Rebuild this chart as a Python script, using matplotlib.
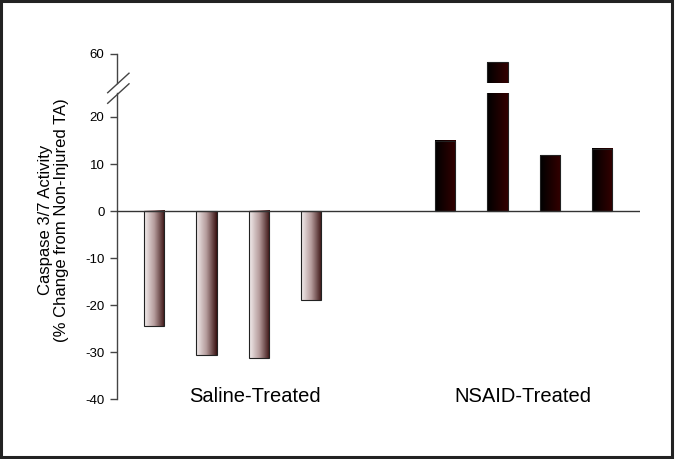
import numpy as np
import matplotlib.pyplot as plt
from matplotlib.patches import Rectangle
from matplotlib.colors import LinearSegmentedColormap

plt.rcParams['font.family'] = ['Liberation Sans', 'DejaVu Sans']
plt.rcParams['axes.unicode_minus'] = False

groups = ["Saline-Treated", "NSAID-Treated"]
saline_vals = [-24.5, -30.6, -31.3, -18.9]
nsaid_vals = [14.9, 58.2, 11.9, 13.2]
lower_ticks = [-40, -30, -20, -10, 0, 10, 20]
upper_ticks = [60]

saline_cmap = LinearSegmentedColormap.from_list("sal", ["#f4eeee", "#b49a9a", "#3a1212"])
nsaid_cmap = LinearSegmentedColormap.from_list("nsa", ["#000000", "#1a0000", "#330000"])

x_sal = np.arange(4)
x_nsa = np.arange(4) + 5.55
width = 0.39
grad = np.linspace(0, 1, 64).reshape(1, -1)

fig = plt.figure(figsize=(6.75, 4.59), dpi=100)
ax = fig.add_axes([0.1733, 0.1307, 0.7748, 0.6656])
ax_top = fig.add_axes([0.1733, 0.8192, 0.7748, 0.0632])

xlim = (-0.706, 9.27)


def draw_bars(a, xs, vals, cmap):
    for x, v in zip(xs, vals):
        a.imshow(grad, cmap=cmap, aspect='auto',
                 extent=(x - width / 2, x + width / 2, 0, v), zorder=2)
        a.add_patch(Rectangle((x - width / 2, 0), width, v, fill=False,
                              edgecolor="#222222", lw=0.8, zorder=3))


for a in (ax, ax_top):
    draw_bars(a, x_sal, saline_vals, saline_cmap)
    draw_bars(a, x_nsa, nsaid_vals, nsaid_cmap)
    a.set_xlim(*xlim)
    for s in ("top", "right", "bottom"):
        a.spines[s].set_visible(False)
    a.spines["left"].set_color("#444444")
    a.spines["left"].set_linewidth(1.0)
    a.tick_params(axis="y", direction="out", length=5, width=1, color="#444444",
                  labelsize=9.5, pad=4)
    a.set_xticks([])

ax.set_ylim(-40, 25)
ax.set_yticks(lower_ticks)
ax_top.set_ylim(53.8, 60)
ax_top.set_yticks(upper_ticks)

ax.axhline(0, color="#333333", lw=1.0, zorder=4)

ax.set_ylabel("Caspase 3/7 Activity\n(% Change from Non-Injured TA)", fontsize=12,
              linespacing=1.05)
ax.yaxis.set_label_coords(-0.092, 0.586)

ax.text(1.93, -39.4, groups[0], fontsize=14.5, ha="center", va="center")
ax.text(7.04, -39.4, groups[1], fontsize=14.5, ha="center", va="center")

# break marks on the y axis
for y0 in (92.7, 103.3):
    fig.add_artist(plt.Line2D([107.7 / 675, 129 / 675],
                              [1 - y0 / 459, 1 - (y0 - 19.5) / 459],
                              color="#444444", lw=1.0))

fig.add_artist(Rectangle((0.002, 0.004), 0.994, 0.993, transform=fig.transFigure,
                         fill=False, edgecolor="#222222", lw=2.2))

fig.savefig("out.png", dpi=100)
